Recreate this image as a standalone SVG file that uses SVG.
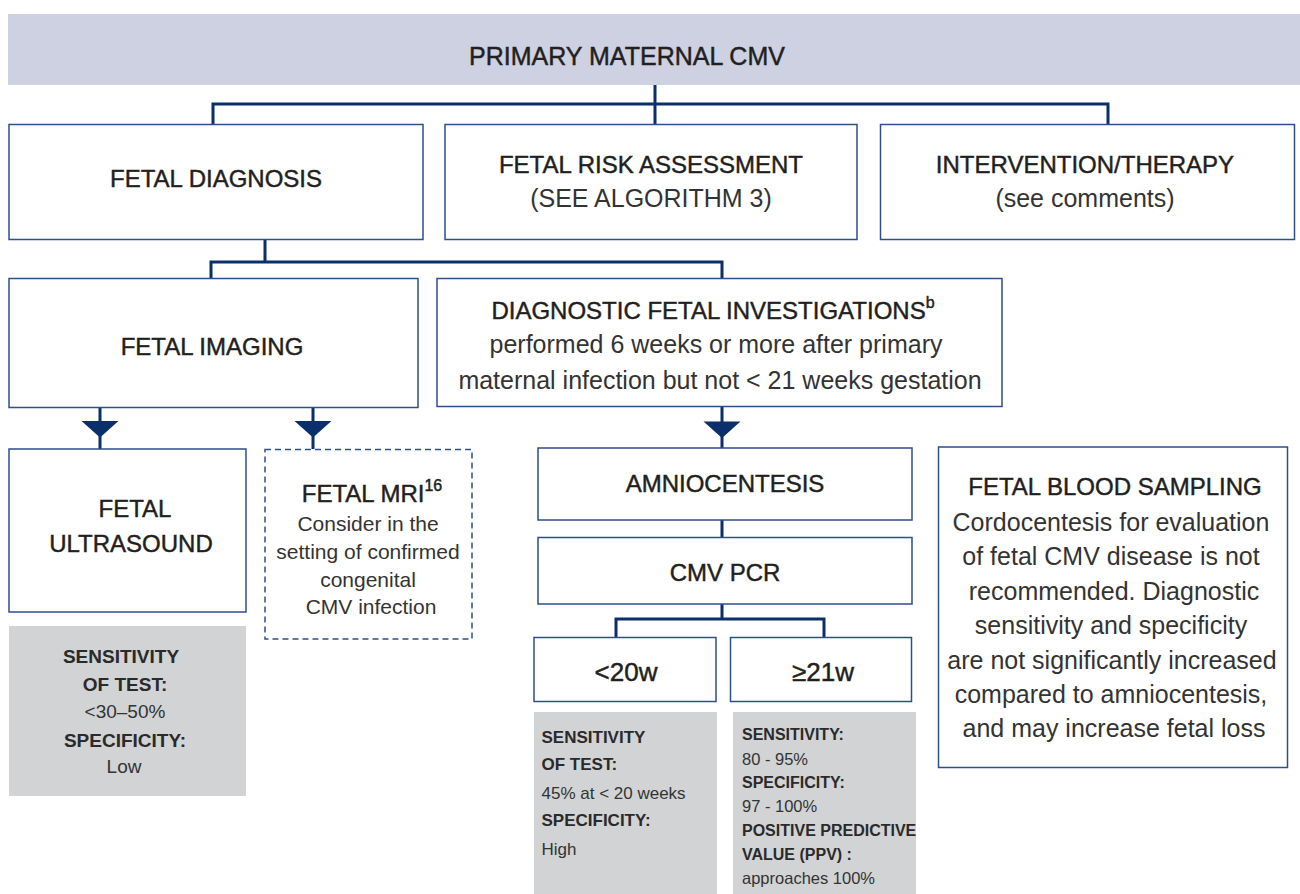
<svg xmlns="http://www.w3.org/2000/svg" width="1300" height="894" viewBox="0 0 1300 894">
<style>
text{font-family:"Liberation Sans",Arial,sans-serif;fill:#231f20}
.h{font-size:24px;stroke:#231f20;stroke-width:0.45}
.b{font-size:25px;fill:#333}
.m{font-size:21px;fill:#333}
.box{fill:#fff;stroke:#2d4f8a;stroke-width:1.5}
.dash{fill:#fff;stroke:#2d4f8a;stroke-width:1.5;stroke-dasharray:6 4}
.gray{fill:#d1d3d4}
.lb{font-size:19px;font-weight:bold;fill:#2a2a2a}
.lr{font-size:19px;fill:#333}
.gb{font-size:17px;font-weight:bold;fill:#2a2a2a}
.gr{font-size:17px;fill:#333}
.sb{font-size:16px;font-weight:bold;fill:#2a2a2a}
.sr{font-size:16.5px;fill:#333}
.c{text-anchor:middle}
.con{fill:none;stroke:#0b2f6b;stroke-width:3}
.tri{fill:#0b2f6b}
</style>
<g id="connectors">
<path class="con" d="M655 85 V124 M213 124 V104 H1108 V124"/>
<path class="con" d="M265 239 V262 M211 278 V262 H722 V278"/>
<path class="con" d="M100 407 V449 M313 407 V449 M722 407 V448"/>
<polygon class="tri" points="81.5,421 118.5,421 100,437.5"/>
<polygon class="tri" points="294.5,421 331.5,421 313,437.5"/>
<polygon class="tri" points="703.5,421.5 740.5,421.5 722,438"/>
<path class="con" d="M722 520 V537 M722 604 V619 M616 637 V619 H824 V637"/>
</g>
<g id="primary">
<rect x="8" y="14" width="1292" height="71" fill="#cdd1e2"/>
<text class="h c" x="627" y="65" style="font-size:25px">PRIMARY MATERNAL CMV</text>
</g>
<g id="fetal-diagnosis">
<rect class="box" x="9" y="124.5" width="414" height="115"/>
<text class="h c" x="216" y="187">FETAL DIAGNOSIS</text>
</g>
<g id="fetal-risk">
<rect class="box" x="445" y="124.5" width="412" height="115"/>
<text class="h c" x="651" y="173">FETAL RISK ASSESSMENT</text>
<text class="b c" x="651" y="207">(SEE ALGORITHM 3)</text>
</g>
<g id="intervention">
<rect class="box" x="880.5" y="124.5" width="414" height="115"/>
<text class="h c" x="1085" y="173">INTERVENTION/THERAPY</text>
<text class="b c" x="1085" y="207">(see comments)</text>
</g>
<g id="fetal-imaging">
<rect class="box" x="9" y="278.5" width="409" height="129"/>
<text class="h c" x="212" y="355">FETAL IMAGING</text>
</g>
<g id="diagnostic-investigations">
<rect class="box" x="437" y="278.5" width="565" height="128"/>
<text class="h c" x="713" y="319">DIAGNOSTIC FETAL INVESTIGATIONS<tspan font-size="16" dy="-11">b</tspan></text>
<text class="b c" x="716" y="353">performed 6 weeks or more after primary</text>
<text class="b c" x="720" y="389">maternal infection but not &lt; 21 weeks gestation</text>
</g>
<g id="fetal-ultrasound">
<rect class="box" x="9" y="449" width="237" height="163"/>
<text class="h c" x="135" y="517">FETAL</text>
<text class="h c" x="131" y="552">ULTRASOUND</text>
</g>
<g id="ultrasound-stats">
<rect class="gray" x="9" y="626" width="237" height="170"/>
<text class="lb c" x="121" y="663">SENSITIVITY</text>
<text class="lb c" x="125" y="691">OF TEST:</text>
<text class="lr c" x="125" y="718">&lt;30–50%</text>
<text class="lb c" x="125" y="747">SPECIFICITY:</text>
<text class="lr c" x="124" y="773">Low</text>
</g>
<g id="fetal-mri">
<rect class="dash" x="265" y="449.5" width="207" height="189.5"/>
<text class="h c" x="372" y="502">FETAL MRI<tspan font-size="16" dy="-11">16</tspan></text>
<text class="m c" x="368" y="530.5">Consider in the</text>
<text class="m c" x="368" y="559">setting of confirmed</text>
<text class="m c" x="368" y="586.5">congenital</text>
<text class="m c" x="371" y="614">CMV infection</text>
</g>
<g id="amniocentesis">
<rect class="box" x="538" y="448" width="374" height="72"/>
<text class="h c" x="725" y="492">AMNIOCENTESIS</text>
</g>
<g id="cmv-pcr">
<rect class="box" x="538" y="537.5" width="374" height="66.5"/>
<text class="h c" x="725" y="581">CMV PCR</text>
</g>
<g id="lt20w">
<rect class="box" x="534" y="637.5" width="182" height="64"/>
<text class="h c" x="626" y="681" style="font-size:26px">&lt;20w</text>
</g>
<g id="ge21w">
<rect class="box" x="730.5" y="637.5" width="181" height="64"/>
<text class="h c" x="823" y="681" style="font-size:26px">≥21w</text>
</g>
<g id="lt20w-stats">
<rect class="gray" x="534" y="712" width="183" height="182"/>
<text class="gb" x="541.5" y="743">SENSITIVITY</text>
<text class="gb" x="541.5" y="770">OF TEST:</text>
<text class="gr" x="541.5" y="799">45% at &lt; 20 weeks</text>
<text class="gb" x="541.5" y="826">SPECIFICITY:</text>
<text class="gr" x="541.5" y="855">High</text>
</g>
<g id="ge21w-stats">
<rect class="gray" x="733" y="712" width="183" height="182"/>
<text class="sb" x="742" y="740">SENSITIVITY:</text>
<text class="sr" x="742" y="765">80 - 95%</text>
<text class="sb" x="742" y="788">SPECIFICITY:</text>
<text class="sr" x="742" y="812">97 - 100%</text>
<text class="sb" x="742" y="836">POSITIVE PREDICTIVE</text>
<text class="sb" x="742" y="860">VALUE (PPV) :</text>
<text class="sr" x="742" y="884">approaches 100%</text>
</g>
<g id="fetal-blood-sampling">
<rect class="box" x="938.5" y="447" width="349" height="320.5"/>
<text class="h c" x="1115" y="495">FETAL BLOOD SAMPLING</text>
<text class="b c" x="1111" y="530.5">Cordocentesis for evaluation</text>
<text class="b c" x="1111" y="565">of fetal CMV disease is not</text>
<text class="b c" x="1114" y="599.5">recommended. Diagnostic</text>
<text class="b c" x="1111" y="634">sensitivity and specificity</text>
<text class="b c" x="1112" y="668.5">are not significantly increased</text>
<text class="b c" x="1111" y="703">compared to amniocentesis,</text>
<text class="b c" x="1114" y="737">and may increase fetal loss</text>
</g>
</svg>
